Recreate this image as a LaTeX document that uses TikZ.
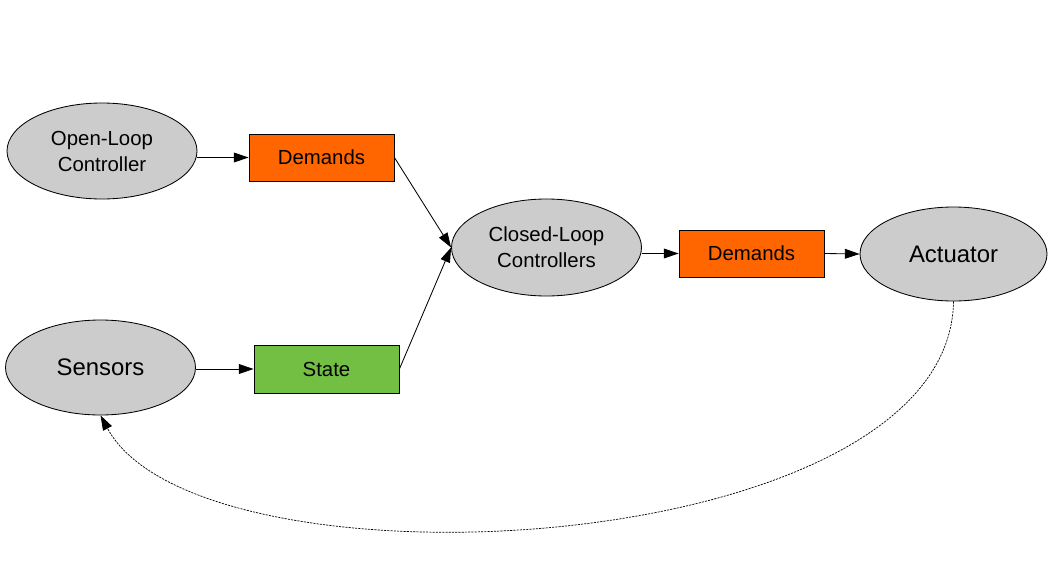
\documentclass[tikz,border=0pt]{standalone}
\usepackage{fontspec}
\setmainfont{Liberation Sans}
\usepackage{xcolor}
\usetikzlibrary{shapes.geometric}
\usetikzlibrary{arrows.meta}
\usetikzlibrary{positioning}
\definecolor{nodegray}{HTML}{CCCCCC}
\definecolor{demandorange}{HTML}{FF6600}
\definecolor{stategreen}{HTML}{72BF44}
\newcommand{\smallfont}{\fontsize{14.5}{18.5}\selectfont}
\newcommand{\bigfont}{\fontsize{17}{21}\selectfont}

\begin{document}
\begin{tikzpicture}[
		unit/.style={ellipse, draw, fill=nodegray, line width=0.6pt, inner sep=0pt, align=center, minimum width=4.75cm, minimum height=2.4cm},
		signal/.style={rectangle, draw, line width=0.6pt, inner sep=0pt, minimum width=3.625cm, minimum height=1.175cm, font=\smallfont},
		>={Triangle[length=10.5pt, width=7pt]},
		every path/.style={line width=0.6pt}
		]
		\useasboundingbox (0,0) rectangle (26.4,-14.2);
		
		\node[unit, font=\smallfont] (olc) at (2.55, -3.775) {Open-Loop\\Controller};
		\node[unit, font=\bigfont, minimum height=2.375cm] (sen) at (2.5125, -9.1875) {Sensors};
		\node[unit, font=\smallfont, minimum height=2.425cm] (clc) at (13.6625, -6.1875) {Closed-Loop\\Controllers};
		\node[unit, font=\bigfont, minimum width=4.675cm, minimum height=2.35cm] (act) at (23.8375, -6.35) {Actuator};
		
		\node[signal, fill=demandorange] (dem1) at (8.0375, -3.9375) {Demands};
		\node[signal, fill=stategreen, minimum height=1.2cm] (sta) at (8.1625, -9.225) {State};
		\node[signal, fill=demandorange] (dem2) at (18.7875, -6.3375) {Demands};
		
		\draw[->] (olc.east |- dem1.west) to (dem1.west);
		\draw[->] (sen.east |- sta.west) to (sta.west);
		\draw[->] (dem1.east) to (clc.west);
		\draw[->] (sta.east) to (clc.west);
		\draw[->] (clc.east |- dem2.west) to (dem2.west);
		\draw[->] (dem2.east) to (act.west);
		
		% feedback from the actuator back to the sensors
		\draw[->, line width=0.5pt, dash pattern=on 1.5pt off 0.8pt] (act.south) .. controls (23.75, -14.0) and (5, -15) .. (sen.south);
\end{tikzpicture}
\end{document}
